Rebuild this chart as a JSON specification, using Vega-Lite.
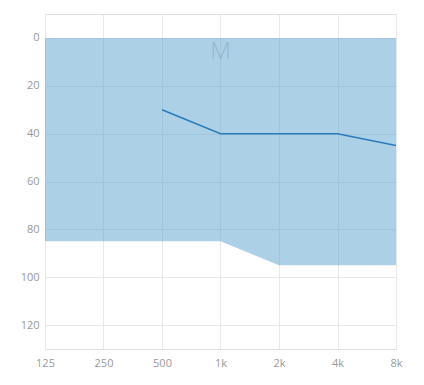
{
  "$schema": "https://vega.github.io/schema/vega-lite/v6.json",
  "width": 351,
  "height": 335,
  "autosize": "none",
  "padding": {"left": 45, "top": 14, "right": 28, "bottom": 36},
  "background": "white",
  "config": {
    "view": {"stroke": "#e0e0e0"},
    "font": "Open Sans",
    "axis": {"gridColor": "#e8e8e8", "labelColor": "#999999", "labelFontSize": 11, "domain": false, "ticks": false, "title": null}
  },
  "datasets": {
    "band": [
      {"freq": 125, "lo": 85, "hi": 0},
      {"freq": 1000, "lo": 85, "hi": 0},
      {"freq": 2000, "lo": 95, "hi": 0},
      {"freq": 8000, "lo": 95, "hi": 0}
    ],
    "thr": [
      {"freq": 500, "db": 30},
      {"freq": 1000, "db": 40},
      {"freq": 2000, "db": 40},
      {"freq": 4000, "db": 40},
      {"freq": 8000, "db": 45}
    ],
    "lab": [{"freq": 1000, "db": 6, "t": "M"}]
  },
  "layer": [
    {
      "data": {"name": "band"},
      "mark": {"type": "area", "color": "#5aa3cf", "opacity": 0.5},
      "encoding": {
        "x": {"field": "freq", "type": "quantitative",
              "scale": {"type": "log", "base": 2, "domain": [125, 8000], "nice": false},
              "axis": {"values": [125, 250, 500, 1000, 2000, 4000, 8000], "labelPadding": 8,
                       "labelExpr": "datum.value >= 1000 ? (datum.value/1000) + 'k' : datum.value",
                       "labelFlush": false}},
        "y": {"field": "lo", "type": "quantitative",
              "scale": {"domain": [-10, 130], "reverse": true, "nice": false, "zero": false},
              "axis": {"values": [0, 20, 40, 60, 80, 100, 120], "labelPadding": 6}},
        "y2": {"field": "hi"}
      }
    },
    {
      "data": {"name": "thr"},
      "mark": {"type": "line", "color": "#2b7bba", "strokeWidth": 1.5},
      "encoding": {
        "x": {"field": "freq", "type": "quantitative"},
        "y": {"field": "db", "type": "quantitative"}
      }
    },
    {
      "data": {"name": "lab"},
      "mark": {"type": "text", "fontSize": 24, "fontWeight": 300, "color": "#8aa6ba", "opacity": 0.6},
      "encoding": {
        "x": {"field": "freq", "type": "quantitative"},
        "y": {"field": "db", "type": "quantitative"},
        "text": {"field": "t"}
      }
    }
  ]
}
